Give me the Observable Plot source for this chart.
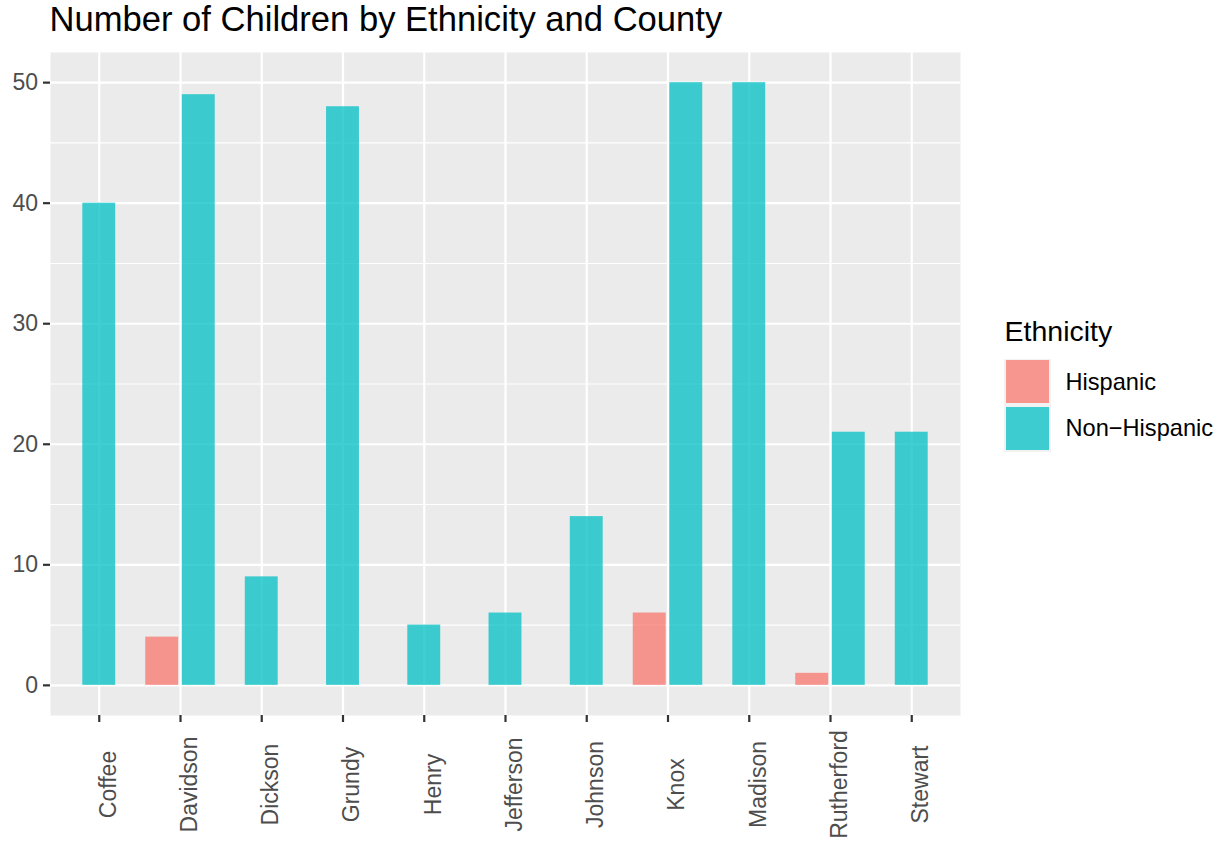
<!DOCTYPE html>
<html><head><meta charset="utf-8">
<script src="https://cdn.jsdelivr.net/npm/d3@7"></script>
<script src="https://cdn.jsdelivr.net/npm/@observablehq/plot@0.6"></script>
<style>
body{margin:0;background:#fff;font-family:"Liberation Sans",Arial,Helvetica,sans-serif;}
#wrap{position:relative;width:1225px;height:846px;overflow:hidden;background:#fff;}
#chart{position:absolute;left:0;top:0;}
.t{position:absolute;line-height:1;white-space:nowrap;}
.k{position:absolute;background:#F2F2F2;}
.kf{position:absolute;}
</style></head><body>
<div id="wrap"><div id="chart"></div><div id="overlay"></div></div>
<script>
// ---- data ----
const counties = ["Coffee","Davidson","Dickson","Grundy","Henry","Jefferson","Johnson","Knox","Madison","Rutherford","Stewart"];
const hispanic = [null, 4, null, null, null, null, null, 6, null, 1, null];
const nonHispanic = [40, 49, 9, 48, 5, 6, 14, 50, 50, 21, 21];
const ethnicities = ["Hispanic", "Non\u2212Hispanic"];
const colors = ["#F8766D", "#00BFC4"];
const yMajor = [0, 10, 20, 30, 40, 50];
const yMinor = [5, 15, 25, 35, 45];
const titleText = "Number of Children by Ethnicity and County";
const legendTitle = "Ethnicity";

// ---- dodge2 (preserve single, padding 0.1) ----
const dodgeWidth = 0.9, padding = 0.1, maxN = 2;
const rows = [];
counties.forEach((c, i) => {
  const vals = [hispanic[i], nonHispanic[i]];
  const present = ethnicities.map((e, j) => vals[j] != null ? j : -1).filter(j => j >= 0);
  const n = present.length;
  const slot = dodgeWidth / maxN;
  present.forEach((j, k) => {
    const center = i + (k - (n - 1) / 2) * slot;
    const half = slot * (1 - padding) / 2;
    rows.push({county: c, ethnicity: ethnicities[j], value: vals[j], x1: center - half, x2: center + half});
  });
});
const idx = d3.range(counties.length);
const FONT = '"Liberation Sans", Arial, Helvetica, sans-serif';

const chart = Plot.plot({
  width: 1225, height: 846,
  marginLeft: 50, marginRight: 265, marginTop: 52, marginBottom: 131,
  style: {fontFamily: FONT, background: "transparent", overflow: "visible"},
  x: {type: "linear", domain: [-0.6, counties.length - 1 + 0.6]},
  y: {domain: [-2.5, 52.5]},
  color: {domain: ethnicities, range: colors},
  marks: [
    Plot.frame({fill: "#EBEBEB", stroke: "none"}),
    Plot.ruleY(yMinor, {y: d => d, stroke: "white", strokeWidth: 1.1}),
    Plot.ruleY(yMajor, {y: d => d, stroke: "white", strokeWidth: 2.2}),
    Plot.ruleX(idx, {x: d => d, stroke: "white", strokeWidth: 2.2}),
    Plot.rect(rows, {x1: "x1", x2: "x2", y1: 0, y2: "value", fill: "ethnicity", fillOpacity: 0.75}),
    Plot.axisY({ticks: yMajor, tickSize: 7, stroke: "#333333", strokeWidth: 2.2, text: null, label: null}),
    Plot.axisX({ticks: idx, tickSize: 7, stroke: "#333333", strokeWidth: 2.2, text: null, label: null}),
    Plot.text(yMajor, {y: d => d, text: d => String(d), frameAnchor: "left", dx: -12.5, textAnchor: "end", fontSize: 23, fill: "#4D4D4D"}),
    Plot.text(counties, {x: (d, i) => i, text: d => d, frameAnchor: "bottom", dy: 69, rotate: -90, textAnchor: "middle", lineAnchor: "top", fontSize: 23, fill: "#4D4D4D"})
  ]
});
document.getElementById("chart").appendChild(chart);

// ---- title & legend (HTML) ----
const ov = document.getElementById("overlay");
function addText(txt, left, baseline, fs, color) {
  const d = document.createElement("div");
  d.className = "t";
  d.textContent = txt;
  d.style.left = left + "px";
  d.style.top = (baseline - 0.8465 * fs) + "px";
  d.style.fontSize = fs + "px";
  d.style.color = color;
  ov.appendChild(d);
}
addText(titleText, 49.5, 31.5, 34.6, "#000");
addText(legendTitle, 1004.5, 341.5, 28.5, "#000");
const keyTop = 358.5, keySize = 46.5, keyLeft = 1004;
ethnicities.forEach((e, j) => {
  const k = document.createElement("div");
  k.className = "k";
  k.style.left = keyLeft + "px";
  k.style.top = (keyTop + j * keySize) + "px";
  k.style.width = keySize + "px";
  k.style.height = keySize + "px";
  const f = document.createElement("div");
  f.className = "kf";
  f.style.left = "1.8px"; f.style.top = "1.8px";
  f.style.width = (keySize - 3.6) + "px"; f.style.height = (keySize - 3.6) + "px";
  const c = d3.color(colors[j]); c.opacity = 0.75;
  f.style.background = c.formatRgb();
  k.appendChild(f);
  ov.appendChild(k);
  addText(e, 1065.5, keyTop + j * keySize + keySize / 2 + 9, 23.6, "#000");
});
</script>
</body></html>
